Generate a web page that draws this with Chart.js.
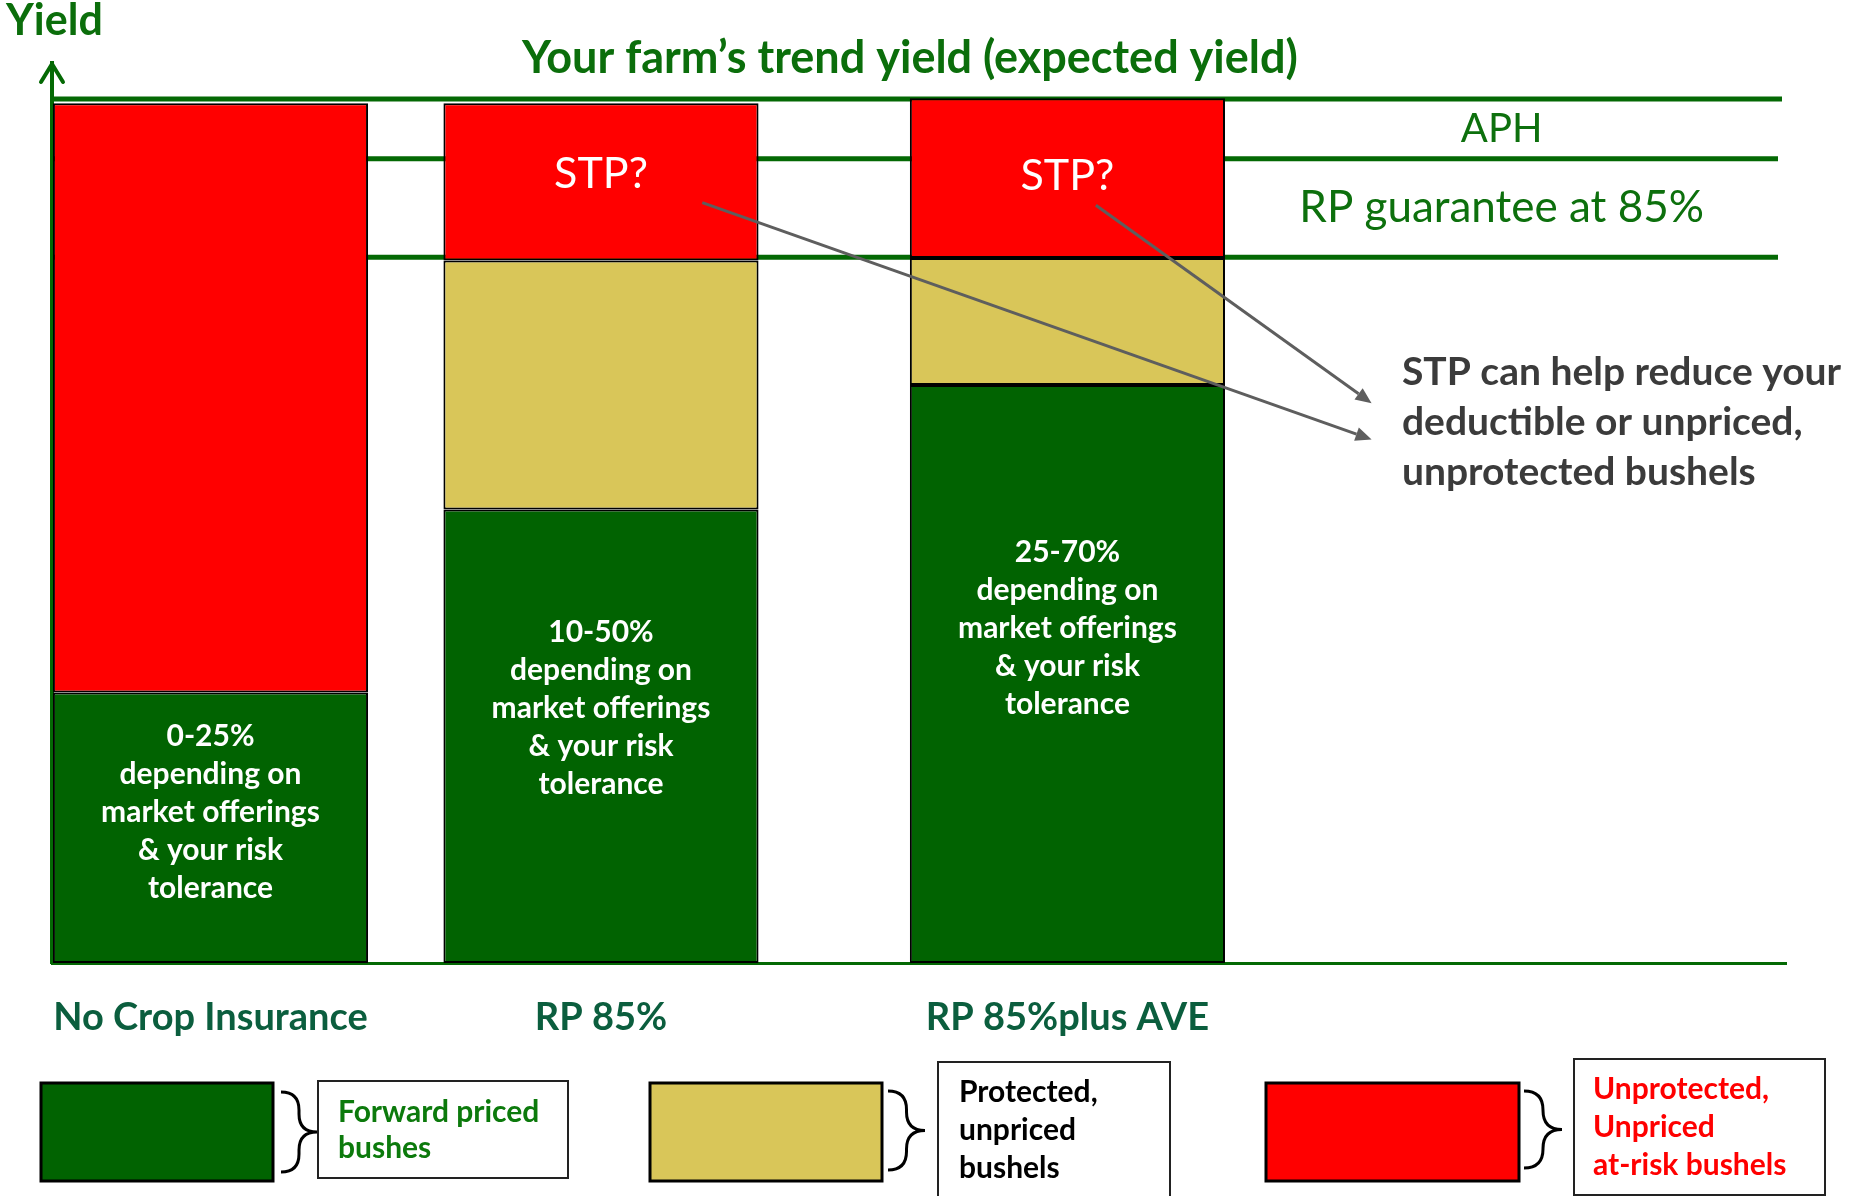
<!DOCTYPE html>
<html>
<head>
<meta charset="utf-8">
<script src="https://cdn.jsdelivr.net/npm/chart.js@4.4.1/dist/chart.umd.min.js"></script>
<style>
  html, body { margin: 0; padding: 0; background: #fff; }
  #wrap { width: 1850px; height: 1196px; }
</style>
</head>
<body>
<div id="wrap"><canvas id="yieldChart"></canvas></div>
<script>
// bushels as % of trend yield
const categories = ['No Crop Insurance', 'RP 85%', 'RP 85%plus AVE'];
const forwardPriced = [31.3, 52.5, 66.9];
const protectedUnpriced = [null, 28.8, 14.7];
const unprotectedAtRisk = [68.2, 18.2, 18.5];
const trendYield = 100;
const aphYield = 93.1;
const rpGuarantee = 81.7;

const pricedRange = ['0-25%', '10-50%', '25-70%'];
const rangeLines = ['depending on', 'market offerings', '& your risk', 'tolerance'];
const stpLabel = 'STP?';
const noteLines = ['STP can help reduce your', 'deductible or unpriced,', 'unprotected bushels'];
const legendLines = [
  ['Forward priced', 'bushes'],
  ['Protected,', 'unpriced', 'bushels'],
  ['Unprotected,', 'Unpriced', 'at-risk bushels']
];

// layout (x axis runs 0..100 across the plot)
const barX = [9.14, 31.66, 58.56];
const textShift = [-15, -28, -46];
const stpShift = [0, -8, -2];

const GREEN = '#016301';
const YELLOW = '#D9C659';
const RED = '#FF0000';
const LINE_GREEN = '#046904';
const FONT = 'Lato';

Chart.defaults.font.family = FONT;

function brace(ctx, x0, y0, x1, y1) {
  const xm = (x0 + x1) / 2, ym = (y0 + y1) / 2, r = xm - x0;
  ctx.beginPath();
  ctx.moveTo(x0, y0);
  ctx.quadraticCurveTo(xm, y0, xm, y0 + r);
  ctx.lineTo(xm, ym - r);
  ctx.quadraticCurveTo(xm, ym, x1, ym);
  ctx.quadraticCurveTo(xm, ym, xm, ym + r);
  ctx.lineTo(xm, y1 - r);
  ctx.quadraticCurveTo(xm, y1, x0, y1);
  ctx.stroke();
}

function arrow(ctx, x0, y0, x1, y1) {
  const ang = Math.atan2(y1 - y0, x1 - x0), len = 16, w = 7;
  const bx = x1 - len * Math.cos(ang), by = y1 - len * Math.sin(ang);
  ctx.beginPath();
  ctx.moveTo(x0, y0);
  ctx.lineTo(bx, by);
  ctx.stroke();
  ctx.beginPath();
  ctx.moveTo(x1, y1);
  ctx.lineTo(bx + w * Math.sin(ang), by - w * Math.cos(ang));
  ctx.lineTo(bx - w * Math.sin(ang), by + w * Math.cos(ang));
  ctx.closePath();
  ctx.fill();
}

const diagram = {
  id: 'diagram',
  beforeDatasetsDraw(chart) {
    const {ctx, chartArea: a, scales: {y}} = chart;
    ctx.save();
    ctx.strokeStyle = LINE_GREEN;
    ctx.lineWidth = 5;
    [[trendYield, a.right - 4], [aphYield, a.right - 8], [rpGuarantee, a.right - 8]].forEach(([v, r]) => {
      const py = y.getPixelForValue(v);
      ctx.beginPath();
      ctx.moveTo(a.left, py);
      ctx.lineTo(r, py);
      ctx.stroke();
    });
    // arrow head on the yield axis
    ctx.lineWidth = 4;
    ctx.lineCap = 'round';
    ctx.lineJoin = 'round';
    ctx.beginPath();
    ctx.moveTo(a.left - 11, a.top + 19);
    ctx.lineTo(a.left, a.top + 1);
    ctx.lineTo(a.left + 11, a.top + 19);
    ctx.stroke();
    ctx.restore();
  },
  afterDatasetsDraw(chart) {
    const {ctx, scales: {x, y}} = chart;
    const greens = chart.getDatasetMeta(0).data;
    const reds = chart.getDatasetMeta(2).data;
    ctx.save();
    ctx.textAlign = 'center';
    ctx.textBaseline = 'middle';

    // text in the forward priced segments
    ctx.fillStyle = '#fff';
    ctx.font = 'bold 30px ' + FONT;
    greens.forEach((el, i) => {
      const mid = (el.y + el.base) / 2 + textShift[i];
      const lines = [pricedRange[i]].concat(rangeLines);
      lines.forEach((t, k) => ctx.fillText(t, el.x, mid + (k - 2) * 38));
    });

    // STP? in the red segments of the insured bars
    ctx.font = '43px ' + FONT;
    reds.forEach((el, i) => {
      if (protectedUnpriced[i] == null) return;
      ctx.fillText(stpLabel, el.x, (el.y + el.base) / 2 + stpShift[i]);
    });

    // level labels
    ctx.fillStyle = '#0d700d';
    ctx.font = '40px ' + FONT;
    ctx.fillText('APH', x.getPixelForValue(83.6), y.getPixelForValue(96.5));
    ctx.font = '44px ' + FONT;
    ctx.fillText('RP guarantee at 85%', x.getPixelForValue(83.6), y.getPixelForValue(87.4));

    // arrows and note
    ctx.strokeStyle = '#5e5e5e';
    ctx.fillStyle = '#5e5e5e';
    ctx.lineWidth = 3;
    arrow(ctx, x.getPixelForValue(37.5), y.getPixelForValue(88.0), x.getPixelForValue(76.1), y.getPixelForValue(60.6));
    arrow(ctx, x.getPixelForValue(60.2), y.getPixelForValue(87.7), x.getPixelForValue(76.1), y.getPixelForValue(64.8));
    ctx.fillStyle = '#3b3b3b';
    ctx.textAlign = 'left';
    ctx.textBaseline = 'alphabetic';
    ctx.font = 'bold 39px ' + FONT;
    noteLines.forEach((t, k) => ctx.fillText(t, x.getPixelForValue(77.85), 385 + k * 50));

    // headings
    ctx.fillStyle = '#0b6e0b';
    ctx.font = 'bold 43px ' + FONT;
    ctx.fillText('Yield', 6, 35);
    ctx.font = 'bold 45px ' + FONT;
    ctx.textAlign = 'center';
    ctx.fillText('Your farm\u2019s trend yield (expected yield)', 910, 73);

    // legend
    const legend = [
      {box: [41, 1083, 232, 98], br: [281, 1092, 317, 1172], tb: [318, 1081, 250, 97], tx: 338, ty: [1122, 1158], col: '#0c7a0c'},
      {box: [650, 1083, 232, 98], br: [888, 1091, 925, 1170], tb: [938, 1062, 232, 140], tx: 959, ty: [1102, 1140, 1178], col: '#000'},
      {box: [1266, 1083, 253, 98], br: [1524, 1091, 1562, 1168], tb: [1574, 1059, 251, 136], tx: 1593, ty: [1099, 1137, 1175], col: '#ff0000'}
    ];
    ctx.textAlign = 'left';
    ctx.font = 'bold 30px ' + FONT;
    legend.forEach((L, i) => {
      ctx.fillStyle = chart.data.datasets[i].backgroundColor;
      ctx.fillRect(...L.box);
      ctx.strokeStyle = '#000';
      ctx.lineWidth = 3;
      ctx.strokeRect(...L.box);
      brace(ctx, ...L.br);
      ctx.lineWidth = 2;
      ctx.strokeStyle = '#222';
      ctx.strokeRect(...L.tb);
      ctx.fillStyle = L.col;
      legendLines[i].forEach((t, k) => ctx.fillText(t, L.tx, L.ty[k]));
    });
    ctx.restore();
  }
};

const toPoints = arr => arr.map((v, i) => ({x: barX[i], y: v}));
const seg = (label, values, color) => ({
  label: label,
  data: toPoints(values),
  backgroundColor: color,
  borderColor: '#000',
  borderWidth: 2,
  borderSkipped: false,
  categoryPercentage: 1,
  barPercentage: 0.807
});

new Chart(document.getElementById('yieldChart'), {
  type: 'bar',
  data: {
    datasets: [
      seg('Forward priced bushes', forwardPriced, GREEN),
      seg('Protected, unpriced bushels', protectedUnpriced, YELLOW),
      seg('Unprotected, Unpriced at-risk bushels', unprotectedAtRisk, RED)
    ]
  },
  options: {
    responsive: true,
    maintainAspectRatio: false,
    animation: false,
    layout: {padding: {left: 52, right: 64, top: 63, bottom: 0}},
    plugins: {legend: {display: false}, tooltip: {enabled: false}},
    scales: {
      x: {
        type: 'linear',
        min: 0,
        max: 100,
        stacked: true,
        offset: false,
        afterBuildTicks: s => { s.ticks = barX.map(v => ({value: v})); },
        afterFit: s => { s.height = 233; },
        grid: {display: false},
        border: {color: LINE_GREEN, width: 3},
        ticks: {
          padding: 24,
          maxRotation: 0,
          autoSkip: false,
          color: '#0b5e3e',
          font: {size: 38, weight: 'bold'},
          callback: (v, i) => categories[i]
        }
      },
      y: {
        min: 0,
        max: 104.17,
        stacked: true,
        afterFit: s => { s.width = 0; },
        grid: {display: false},
        border: {color: LINE_GREEN, width: 4},
        ticks: {display: false}
      }
    }
  },
  plugins: [diagram]
});
</script>
</body>
</html>
